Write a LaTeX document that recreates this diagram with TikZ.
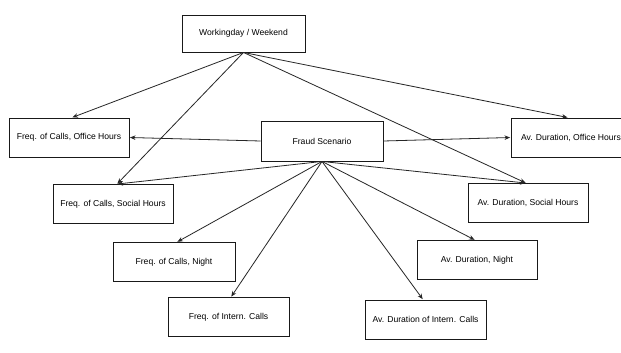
\documentclass[tikz,border=0pt]{standalone}
\usepackage{fontspec}
\setmainfont{Liberation Sans}
\usetikzlibrary{arrows.meta}
\tikzset{
  box/.style={draw=black!90, line width=0.9pt, fill=white, minimum width=120pt, minimum height=39pt,
    inner sep=1pt, font=\fontsize{8.6}{10}\selectfont},
  link/.style={draw=black!85, line width=0.8pt, -{Stealth[length=5.5pt,width=4.5pt]}, shorten >=0.5pt}
}
\begin{document}
\begin{tikzpicture}[x=1pt, y=-1pt]
  \useasboundingbox (0,0) rectangle (621,353);
  \clip (0,0) rectangle (621,353);
  \fill[white] (0,0) rectangle (621,353);

  % factor nodes
  \node[box, minimum width=123pt, minimum height=37pt] (ww) at (243.5,33.5) {Workingday / Weekend};
  \node[box, minimum width=122pt, minimum height=40pt] (fs) at (322,141) {Fraud Scenario};

  % feature nodes, calls
  \node[box] (fo) at (69,137.5) {Freq. of Calls, Office Hours};
  \node[box] (fso) at (113,204) {Freq. of Calls, Social Hours};
  \node[box, minimum width=122pt] (fn) at (174,262) {Freq. of Calls, Night};
  \node[box, minimum width=121pt] (fi) at (228.5,317) {Freq. of Intern. Calls};

  % feature nodes, durations
  \node[box] (ao) at (571,137.5) {Av. Duration, Office Hours};
  \node[box] (as) at (528,203) {Av. Duration, Social Hours};
  \node[box] (an) at (477,260) {Av. Duration, Night};
  \node[box, minimum width=121pt] (ai) at (425.5,319.5) {Av. Duration of Intern. Calls};

  % dependencies on the day type
  \draw[link] (ww.south) -- ([xshift=3pt]fo.north);
  \draw[link] (ww.south) -- ([xshift=4pt]fso.north);
  \draw[link] (ww.south) -- ([xshift=-2pt]as.north);
  \draw[link] (ww.south) -- ([xshift=-3pt]ao.north);

  % dependencies on the fraud scenario
  \draw[link] (fs.west) -- (fo.east);
  \draw[link] (fs.east) -- (ao.west);
  \draw[link] (fs.south) -- ([xshift=4pt]fso.north);
  \draw[link] (fs.south) -- ([xshift=3pt]fn.north);
  \draw[link] (fs.south) -- ([xshift=2.5pt]fi.north);
  \draw[link] (fs.south) -- ([xshift=-2.5pt]ai.north);
  \draw[link] (fs.south) -- ([xshift=-2pt]an.north);
  \draw[link] (fs.south) -- ([xshift=-2pt]as.north);
\end{tikzpicture}
\end{document}
